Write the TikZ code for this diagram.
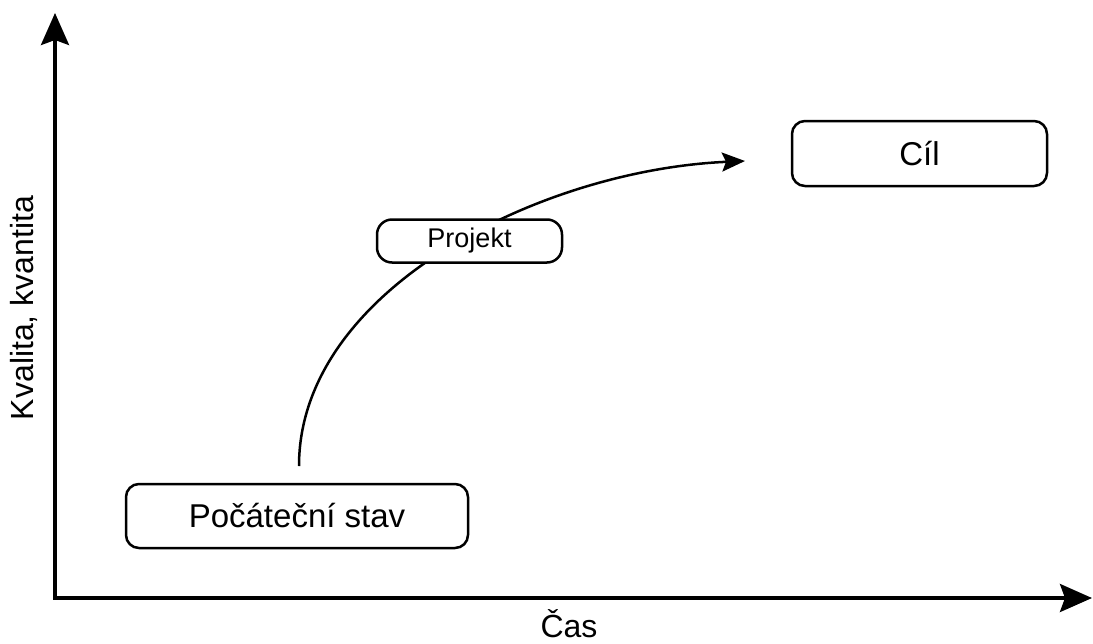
\documentclass[tikz,border=0pt]{standalone}
\usepackage{fontspec}
\setmainfont{Liberation Sans}
\usetikzlibrary{arrows.meta}
\begin{document}
\begin{tikzpicture}[x=1pt,y=-1pt,
  box/.style={draw=black, line width=2.5pt, fill=white, rounded corners=13pt, inner sep=0pt,
    font=\fontsize{33}{39}\selectfont},
  smallbox/.style={draw=black, line width=2.5pt, fill=white, rounded corners=15pt, inner sep=0pt,
    font=\fontsize{27}{32}\selectfont},
  axis/.style={line width=3.5pt, -{Stealth[length=32pt, width=28pt, inset=5pt]}},
  flow/.style={line width=2.5pt, -{Stealth[length=23pt, width=19pt, inset=4pt]}},
  lbl/.style={font=\fontsize{32}{38}\selectfont, inner sep=0pt}
]
\useasboundingbox (0,0) rectangle (1093,643);
\coordinate (o) at (55,598);
\coordinate (ytop) at (55,13);
\coordinate (xend) at (1092,598);
\draw[axis] (o) -- (ytop);
\draw[axis] ([xshift=-1.75pt]o) -- (xend);

\coordinate (s) at (299,466);
\coordinate (e) at (745,161);
\draw[flow] (s) .. controls (299,290) and (540,170) .. (e);

\node[box, minimum width=342pt, minimum height=64pt] (start) at (297,516) {Počáteční stav};
\node[box, minimum width=255pt, minimum height=65pt] (goal) at (919.5,153.5) {Cíl};
\node[smallbox, minimum width=185pt, minimum height=43pt] (proj) at (469.5,241) {Projekt};

\node[lbl] (xl) at (569,624) {Čas};
\node[lbl, rotate=90] (yl) at (24,308) {Kvalita, kvantita};
\end{tikzpicture}
\end{document}
